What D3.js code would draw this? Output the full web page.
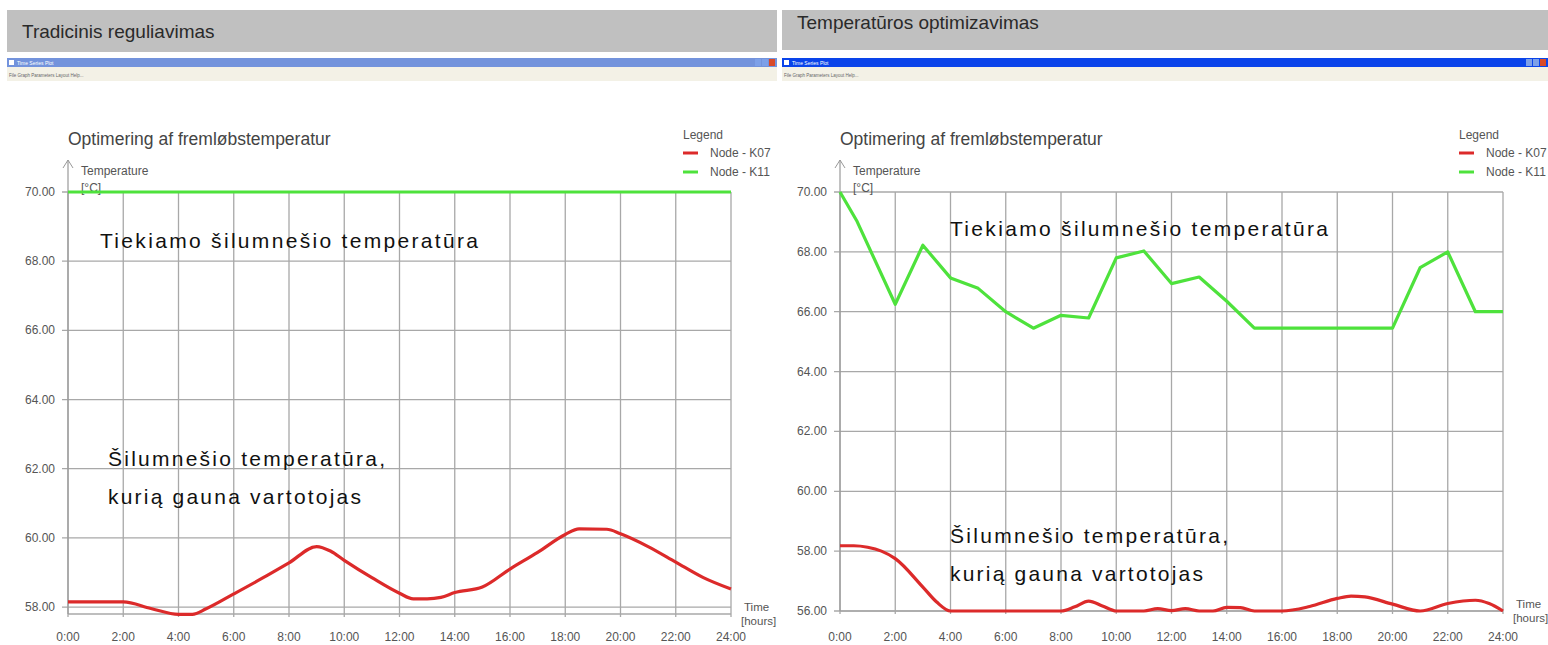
<!DOCTYPE html>
<html>
<head>
<meta charset="utf-8">
<script src="https://cdn.jsdelivr.net/npm/d3@7"></script>
<style>
  body { margin: 0; background: #fff; }
  svg { display: block; }
  text { font-family: "Liberation Sans", Arial, sans-serif; }
</style>
</head>
<body>
<div id="container"></div>
<script>
// tick labels
var hourTicks = [0, 2, 4, 6, 8, 10, 12, 14, 16, 18, 20, 22, 24];
var hourLabels = ["0:00", "2:00", "4:00", "6:00", "8:00", "10:00", "12:00", "14:00", "16:00", "18:00", "20:00", "22:00", "24:00"];
var leftTempTicks = [58, 60, 62, 64, 66, 68, 70];
var rightTempTicks = [56, 58, 60, 62, 64, 66, 68, 70];

// Tradicinis reguliavimas - supply (K11) and consumer (K07)
var leftSupplyHours = [0, 24];
var leftSupplyValues = [70, 70];
var leftConsumerHours = [0, 1, 2, 3, 4, 4.5, 5, 6, 7, 8, 9, 9.5, 10, 11, 12, 12.5, 13, 13.5, 14, 15, 16, 17, 18, 18.5, 19.5, 20, 21, 22, 23, 24];
var leftConsumerValues = [58.15, 58.15, 58.15, 57.96, 57.79, 57.79, 57.95, 58.38, 58.82, 59.28, 59.75, 59.62, 59.35, 58.85, 58.4, 58.24, 58.24, 58.28, 58.42, 58.58, 59.1, 59.58, 60.1, 60.26, 60.25, 60.12, 59.75, 59.3, 58.85, 58.52];

// Temperatūros optimizavimas
var rightSupplyHours = [0, 0.6, 2, 3, 4, 5, 6, 7, 8, 9, 10, 11, 12, 13, 14, 15, 16, 17, 18, 19, 20, 21, 22, 23, 24];
var rightSupplyValues = [70, 69.05, 66.25, 68.22, 67.13, 66.78, 66.0, 65.45, 65.88, 65.79, 67.8, 68.03, 66.94, 67.16, 66.35, 65.45, 65.45, 65.45, 65.45, 65.45, 65.45, 67.47, 68.0, 66.0, 66.0];
var rightConsumerHours = [0, 0.5, 1, 1.5, 2, 3, 3.5, 4, 5, 6, 7, 8, 8.5, 9, 9.5, 10, 11, 11.5, 12, 12.5, 13, 13.5, 14, 14.5, 15, 16, 17, 18, 18.5, 19, 20, 21, 22, 23, 23.5, 24];
var rightConsumerValues = [58.18, 58.18, 58.13, 58.0, 57.75, 56.8, 56.3, 56.0, 56.0, 56.0, 56.0, 56.0, 56.14, 56.33, 56.17, 56.0, 56.0, 56.08, 56.01, 56.08, 56.0, 56.0, 56.12, 56.11, 56.0, 56.0, 56.15, 56.42, 56.5, 56.47, 56.23, 56.0, 56.25, 56.36, 56.25, 56.0];

var legendNames = ["Node - K07", "Node - K11"];
var RED = "#dc2a2a", GREEN = "#4ee23c";

var svg = d3.select("#container").append("svg")
  .attr("width", 1548).attr("height", 645);

function header(x, w, y, h, label, textY, blue) {
  svg.append("rect").attr("x", x).attr("y", y).attr("width", w).attr("height", h).attr("fill", "#c0c0c0");
  svg.append("text").attr("x", x + 15).attr("y", textY).attr("font-size", 19).attr("fill", "#2a2a2a").text(label);
  // window title + menu strip
  svg.append("rect").attr("x", x).attr("y", 58).attr("width", w).attr("height", 9).attr("fill", blue);
  svg.append("rect").attr("x", x).attr("y", 67).attr("width", w).attr("height", 14).attr("fill", "#f3f1e6");
  svg.append("rect").attr("x", x + 2).attr("y", 60).attr("width", 5).attr("height", 5).attr("fill", "#fff");
  svg.append("text").attr("x", x + 10).attr("y", 65).attr("font-size", 5).attr("fill", "#fff").text("Time Series Plot");
  svg.append("text").attr("x", x + 2).attr("y", 77).attr("font-size", 4.5).attr("fill", "#666")
    .text("File   Graph   Parameters   Layout   Help...");
  ["#7da0e8", "#7da0e8", "#d84a2a"].forEach(function(c, i) {
    svg.append("rect").attr("x", x + w - 22 + i * 7).attr("y", 59).attr("width", 6).attr("height", 7).attr("fill", c);
  });
}

header(7, 770, 10, 42, "Tradicinis reguliavimas", 38, "#7393dc");
header(782, 766, 10, 40, "Temperatūros optimizavimas", 29, "#0a44ea");

function drawPanel(p) {
  var x = d3.scaleLinear().domain([0, 24]).range([p.x0, p.x1]);
  var y = d3.scaleLinear().domain(p.domain).range([p.yBottom, 192]);
  var g = svg.append("g");

  g.append("text").attr("x", p.x0).attr("y", 145).attr("font-size", 17.5).attr("fill", "#444")
    .text("Optimering af fremløbstemperatur");

  // grid
  g.selectAll(".hg").data(p.yTicks).enter().append("line")
    .attr("x1", p.x0 - 6).attr("x2", p.x1)
    .attr("y1", function(d) { return y(d); }).attr("y2", function(d) { return y(d); })
    .attr("stroke", "#a8a8a8").attr("stroke-width", 1.3);
  g.append("line").attr("x1", p.x0).attr("x2", p.x1).attr("y1", y(p.domain[0])).attr("y2", y(p.domain[0]))
    .attr("stroke", "#a8a8a8").attr("stroke-width", 1.3);
  g.selectAll(".vg").data(hourTicks).enter().append("line")
    .attr("x1", function(d) { return x(d); }).attr("x2", function(d) { return x(d); })
    .attr("y1", 192).attr("y2", p.yBottom + 3)
    .attr("stroke", "#a8a8a8").attr("stroke-width", 1.3);

  // y axis arrow
  g.append("line").attr("x1", p.x0).attr("x2", p.x0).attr("y1", 160).attr("y2", p.yBottom)
    .attr("stroke", "#999").attr("stroke-width", 1.2);
  g.append("path").attr("d", "M" + (p.x0 - 5) + ",168 L" + p.x0 + ",160 L" + (p.x0 + 5) + ",168")
    .attr("fill", "none").attr("stroke", "#999").attr("stroke-width", 1);
  g.append("text").attr("x", p.x0 + 13).attr("y", 175).attr("font-size", 12).attr("fill", "#555").text("Temperature");
  g.append("text").attr("x", p.x0 + 13).attr("y", 192).attr("font-size", 12).attr("fill", "#555").text("[°C]");

  // tick labels
  g.selectAll(".yl").data(p.yTicks).enter().append("text")
    .attr("x", p.x0 - 13).attr("y", function(d) { return y(d) + 4; })
    .attr("text-anchor", "end").attr("font-size", 12).attr("fill", "#555")
    .text(function(d) { return d3.format(".2f")(d); });
  g.selectAll(".xl").data(hourTicks).enter().append("text")
    .attr("x", function(d) { return x(d); }).attr("y", 641)
    .attr("text-anchor", "middle").attr("font-size", 12).attr("fill", "#555")
    .text(function(d, i) { return hourLabels[i]; });
  g.append("text").attr("x", p.x1 + 13).attr("y", p.yBottom - 3).attr("font-size", 11.5).attr("fill", "#555").text("Time");
  g.append("text").attr("x", p.x1 + 10).attr("y", p.yBottom + 11).attr("font-size", 11.5).attr("fill", "#555").text("[hours]");

  // legend
  g.append("text").attr("x", p.legendX).attr("y", 139).attr("font-size", 12).attr("fill", "#555").text("Legend");
  [RED, GREEN].forEach(function(c, i) {
    g.append("line").attr("x1", p.legendX).attr("x2", p.legendX + 15)
      .attr("y1", 153 + i * 19).attr("y2", 153 + i * 19).attr("stroke", c).attr("stroke-width", 3);
    g.append("text").attr("x", p.legendX + 27).attr("y", 157 + i * 19).attr("font-size", 12).attr("fill", "#555")
      .text(legendNames[i]);
  });

  // series
  var line = d3.line().x(function(d) { return x(d[0]); }).y(function(d) { return y(d[1]); });
  g.append("path").datum(d3.zip(p.supplyHours, p.supplyValues))
    .attr("d", line.curve(d3.curveLinear)).attr("fill", "none")
    .attr("stroke", GREEN).attr("stroke-width", 3.2).attr("stroke-linejoin", "round");
  g.append("path").datum(d3.zip(p.consumerHours, p.consumerValues))
    .attr("d", line.curve(d3.curveMonotoneX)).attr("fill", "none")
    .attr("stroke", RED).attr("stroke-width", 3.2).attr("stroke-linejoin", "round");

  // annotations
  p.notes.forEach(function(n) {
    g.append("text").attr("x", n.x).attr("y", n.y).attr("font-family", "'Noto Sans', sans-serif")
      .attr("font-size", 21).attr("fill", "#111")
      .attr("textLength", n.w).attr("lengthAdjust", "spacing").text(n.t);
  });
}

drawPanel({
  x0: 68, x1: 731, yBottom: 614, domain: [57.8, 70], yTicks: leftTempTicks, legendX: 683,
  supplyHours: leftSupplyHours, supplyValues: leftSupplyValues,
  consumerHours: leftConsumerHours, consumerValues: leftConsumerValues,
  notes: [
    { t: "Tiekiamo šilumnešio temperatūra", x: 100, y: 248, w: 378 },
    { t: "Šilumnešio temperatūra,", x: 108, y: 466, w: 277 },
    { t: "kurią gauna vartotojas", x: 108, y: 504, w: 253 }
  ]
});

drawPanel({
  x0: 840, x1: 1503, yBottom: 611, domain: [56, 70], yTicks: rightTempTicks, legendX: 1459,
  supplyHours: rightSupplyHours, supplyValues: rightSupplyValues,
  consumerHours: rightConsumerHours, consumerValues: rightConsumerValues,
  notes: [
    { t: "Tiekiamo šilumnešio temperatūra", x: 950, y: 236, w: 378 },
    { t: "Šilumnešio temperatūra,", x: 950, y: 543, w: 278 },
    { t: "kurią gauna vartotojas", x: 950, y: 581, w: 253 }
  ]
});
</script>
</body>
</html>
